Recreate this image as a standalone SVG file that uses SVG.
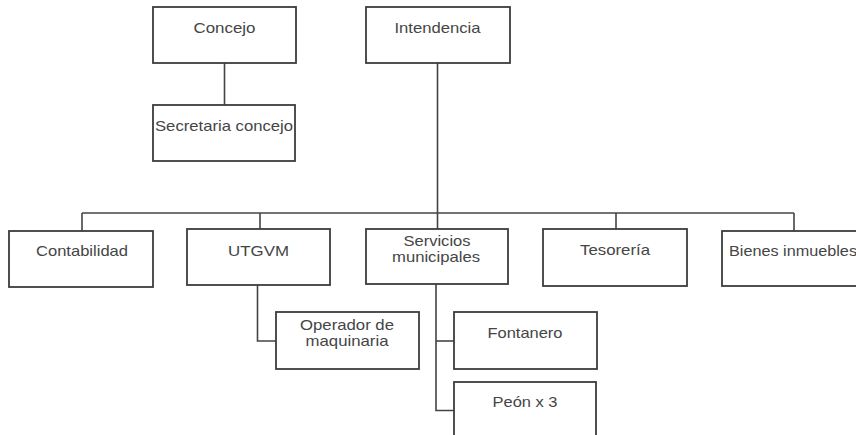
<svg xmlns="http://www.w3.org/2000/svg" width="856" height="435" viewBox="0 0 856 435">
  <style>
    .box { fill: #ffffff; stroke: #3c3c3c; stroke-width: 1.8; }
    .link { fill: none; stroke: #444444; stroke-width: 1.6; }
    .lbl { font-family: "Liberation Sans", Arial, sans-serif; font-size: 15px; fill: #454545; text-anchor: middle; }
  </style>
  <rect width="856" height="435" fill="#ffffff"/>

  <!-- connectors -->
  <g id="connectors">
    <path class="link" d="M224.5 63 V105"/>
    <path class="link" d="M437.5 63 V229"/>
    <path class="link" d="M82 213 H794"/>
    <path class="link" d="M82 213 V231"/>
    <path class="link" d="M260 213 V229"/>
    <path class="link" d="M616 213 V229"/>
    <path class="link" d="M794 213 V231"/>
    <path class="link" d="M257.5 285 V341 H276"/>
    <path class="link" d="M436 284 V410.5 H454"/>
    <path class="link" d="M436 341 H454"/>
  </g>

  <g id="concejo">
    <rect class="box" x="153" y="7" width="143" height="56"/>
    <text class="lbl" x="224.5" y="32.5" textLength="62" lengthAdjust="spacingAndGlyphs">Concejo</text>
  </g>
  <g id="intendencia">
    <rect class="box" x="366" y="7" width="144" height="56"/>
    <text class="lbl" x="437.5" y="32.5" textLength="86" lengthAdjust="spacingAndGlyphs">Intendencia</text>
  </g>
  <g id="secretaria">
    <rect class="box" x="153" y="105" width="142" height="56"/>
    <text class="lbl" x="224" y="131" textLength="138" lengthAdjust="spacingAndGlyphs">Secretaria concejo</text>
  </g>
  <g id="contabilidad">
    <rect class="box" x="9" y="231" width="144" height="56"/>
    <text class="lbl" x="82" y="256" textLength="92" lengthAdjust="spacingAndGlyphs">Contabilidad</text>
  </g>
  <g id="utgvm">
    <rect class="box" x="187" y="229" width="143" height="56"/>
    <text class="lbl" x="258.5" y="255.5" textLength="61" lengthAdjust="spacingAndGlyphs">UTGVM</text>
  </g>
  <g id="servicios">
    <rect class="box" x="366" y="229" width="142" height="55"/>
    <text class="lbl" x="437" y="246" textLength="67" lengthAdjust="spacingAndGlyphs">Servicios</text>
    <text class="lbl" x="436" y="262" textLength="88" lengthAdjust="spacingAndGlyphs">municipales</text>
  </g>
  <g id="tesoreria">
    <rect class="box" x="543" y="229" width="144" height="57"/>
    <text class="lbl" x="615" y="254.5" textLength="70" lengthAdjust="spacingAndGlyphs">Tesorería</text>
  </g>
  <g id="bienes">
    <rect class="box" x="722" y="231" width="140" height="55"/>
    <text class="lbl" x="793" y="256" textLength="128" lengthAdjust="spacingAndGlyphs">Bienes inmuebles</text>
  </g>
  <g id="operador">
    <rect class="box" x="276" y="312" width="143" height="57"/>
    <text class="lbl" x="347" y="330" textLength="94" lengthAdjust="spacingAndGlyphs">Operador de</text>
    <text class="lbl" x="347" y="346" textLength="83" lengthAdjust="spacingAndGlyphs">maquinaria</text>
  </g>
  <g id="fontanero">
    <rect class="box" x="454" y="312" width="143" height="57"/>
    <text class="lbl" x="525" y="338" textLength="75" lengthAdjust="spacingAndGlyphs">Fontanero</text>
  </g>
  <g id="peon">
    <rect class="box" x="454" y="382" width="142" height="62"/>
    <text class="lbl" x="525" y="407" textLength="65" lengthAdjust="spacingAndGlyphs">Peón x 3</text>
  </g>
</svg>
